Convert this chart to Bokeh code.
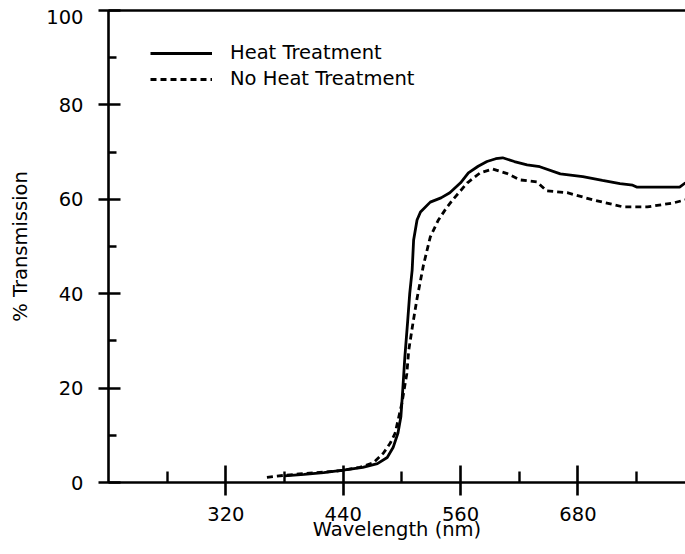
from bokeh.plotting import figure
from bokeh.models import FixedTicker, LinearAxis, Range1d, Legend, LegendItem
from bokeh.embed import file_html
from bokeh.resources import INLINE

# ---- data ----
heat_wl = [380, 400, 420, 440, 460, 475, 485, 491, 496, 499, 501, 503, 506, 508, 510.5, 512,
           515.5, 519, 529, 540, 549, 560, 568, 578, 587, 596, 603, 615, 628, 641, 662, 685,
           705, 723, 736, 740, 770, 784, 790]
heat_t = [1.4, 1.7, 2.1, 2.6, 3.2, 4.0, 5.3, 7.4, 10.5, 14, 20, 26.5, 34.4, 40, 45, 51.4,
          55.6, 57.3, 59.4, 60.3, 61.4, 63.5, 65.6, 67, 68, 68.6, 68.8, 68, 67.3, 66.9, 65.4, 64.8,
          64, 63.3, 63, 62.6, 62.6, 62.6, 63.5]

noheat_wl = [362, 379, 395, 413, 437, 457, 471, 481, 488, 493, 500, 505, 507, 511.5, 515.5, 522,
             529, 537, 545, 552, 567, 580, 593, 607, 621, 638, 648, 669, 695, 726, 751, 777, 790]
noheat_t = [1.1, 1.5, 1.8, 2.1, 2.5, 3.2, 4.2, 6.2, 8.3, 10.4, 16.8, 23, 28, 34, 39, 46,
            52, 55.5, 58, 59.9, 63.5, 65.6, 66.4, 65.5, 64.1, 63.7, 61.8, 61.4, 59.9, 58.4, 58.4, 59.2, 59.9]

x_major = [320, 440, 560, 680]
x_minor = [260, 380, 500, 620, 740]
y_major = [0, 20, 40, 60, 80, 100]
y_minor = [10, 30, 50, 70, 90]

series_labels = ["Heat Treatment", "No Heat Treatment"]
x_title = "Wavelength (nm)"
y_title = "% Transmission"

FONT = "DejaVu Sans"
FS = "19.5px"

p = figure(width=685, height=554, output_backend="svg", toolbar_location=None,
           x_range=Range1d(200, 790), y_range=Range1d(0, 100),
           x_axis_type=None, y_axis_type=None,
           min_border_left=108, min_border_right=0, min_border_top=10, min_border_bottom=72)
p.outline_line_color = None
p.grid.visible = False
p.background_fill_color = "white"
p.border_fill_color = "white"

# y tick labels: the top one ("100") sits a little below its tick in the reference
top_label_pos = y_major[-1] - 1.38
label_ticks = y_major[:-1] + [top_label_pos]

xa = LinearAxis(ticker=FixedTicker(ticks=x_major, minor_ticks=x_minor))
ya = LinearAxis(ticker=FixedTicker(ticks=y_major, minor_ticks=y_minor))
yl = LinearAxis(ticker=FixedTicker(ticks=label_ticks))
top = LinearAxis(ticker=FixedTicker(ticks=[]))

for ax in (xa, ya, yl, top):
    ax.axis_line_width = 2.6
    ax.axis_line_color = "black"
    ax.major_tick_line_width = 2.6
    ax.minor_tick_line_width = 2.4
    ax.major_tick_line_color = "black"
    ax.minor_tick_line_color = "black"
    ax.major_label_text_font = FONT
    ax.major_label_text_font_size = FS
    ax.major_label_text_color = "black"
    ax.axis_label_text_font = FONT
    ax.axis_label_text_font_size = FS
    ax.axis_label_text_font_style = "normal"
    ax.axis_label_text_color = "black"

for ax in (top, yl):
    ax.major_tick_line_color = None
    ax.minor_tick_line_color = None
    ax.major_tick_out = 0
    ax.major_tick_in = 0
    ax.minor_tick_out = 0
    ax.minor_tick_in = 0
top.major_label_text_font_size = "0px"
yl.axis_line_color = None

xa.major_tick_in = 17
xa.major_tick_out = 13
xa.minor_tick_in = 11
xa.minor_tick_out = 0
xa.major_label_standoff = 11
xa.axis_label = x_title
xa.axis_label_standoff = -6

ya.major_tick_in = 12
ya.major_tick_out = 10
ya.minor_tick_in = 8
ya.minor_tick_out = 0
ya.major_label_standoff = 0
ya.major_label_text_font_size = "0px"
ya.major_label_overrides = {v: "" for v in y_major}

yl.major_label_standoff = 15
yl.major_label_overrides = {top_label_pos: str(y_major[-1])}
yl.axis_label = y_title
yl.axis_label_standoff = 11

p.add_layout(xa, "below")
p.add_layout(ya, "left")
p.add_layout(yl, "left")
p.add_layout(top, "above")

r1 = p.line(heat_wl, heat_t, line_color="black", line_width=2.8)
r2 = p.line(noheat_wl, noheat_t, line_color="black", line_width=2.8, line_dash="6 4")

legend = Legend(items=[LegendItem(label=series_labels[0], renderers=[r1]),
                       LegendItem(label=series_labels[1], renderers=[r2])],
                location=(42, 392))
legend.label_text_font = FONT
legend.label_text_font_size = FS
legend.label_text_color = "black"
legend.glyph_width = 62
legend.glyph_height = 22
legend.label_standoff = 18
legend.label_height = 22
legend.spacing = 3
legend.padding = 0
legend.margin = 0
legend.border_line_color = None
legend.background_fill_alpha = 0
p.add_layout(legend)

open("out.html", "w").write(file_html(p, INLINE))
